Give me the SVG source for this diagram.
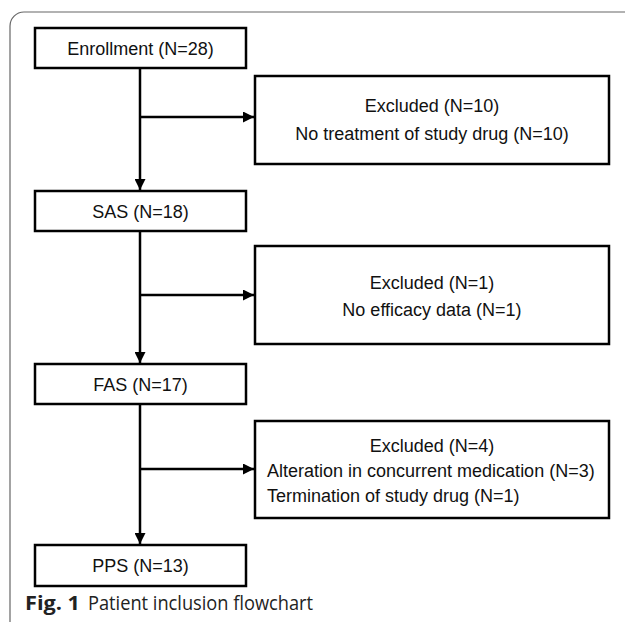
<svg xmlns="http://www.w3.org/2000/svg" width="625" height="622" viewBox="0 0 625 622">
<defs>
<style>
.box{fill:#fff;stroke:#000;stroke-width:2.5}
.t{font-family:"Liberation Sans",Arial,sans-serif;font-size:18px;fill:#111;text-anchor:middle}
.l{text-anchor:start}
.c{stroke:#000;stroke-width:2.5;fill:none}
.cap{font-family:"Open Sans","Noto Sans",sans-serif;font-size:20px;fill:#222}
</style>
<marker id="ah" viewBox="0 0 10 10" refX="10" refY="5" markerWidth="4.4" markerHeight="4.4" markerUnits="strokeWidth" orient="auto">
<path d="M0,0 L10,5 L0,10 Z" fill="#000"/>
</marker>
</defs>
<rect width="625" height="622" fill="#fff"/>
<path d="M10,622 V26 A14,14 0 0 1 24,12 H625" fill="none" stroke="#666" stroke-width="1.2"/>
<g id="connectors">
<path class="c" d="M140,68 V190" marker-end="url(#ah)"/>
<path class="c" d="M140,117 H254" marker-end="url(#ah)"/>
<path class="c" d="M140,231 V363" marker-end="url(#ah)"/>
<path class="c" d="M140,295 H254" marker-end="url(#ah)"/>
<path class="c" d="M140,404 V544" marker-end="url(#ah)"/>
<path class="c" d="M140,469 H254" marker-end="url(#ah)"/>
</g>
<g id="enrollment">
<rect class="box" x="35" y="28" width="211" height="40"/>
<text class="t" x="140.5" y="54.5">Enrollment (N=28)</text>
</g>
<g id="excluded1">
<rect class="box" x="255" y="76" width="354" height="88"/>
<text class="t" x="432" y="112">Excluded (N=10)</text>
<text class="t" x="432" y="140">No treatment of study drug (N=10)</text>
</g>
<g id="sas">
<rect class="box" x="35" y="191" width="211" height="40"/>
<text class="t" x="140.5" y="217.5">SAS (N=18)</text>
</g>
<g id="excluded2">
<rect class="box" x="255" y="246" width="354" height="98"/>
<text class="t" x="432" y="289">Excluded (N=1)</text>
<text class="t" x="432" y="316">No efficacy data (N=1)</text>
</g>
<g id="fas">
<rect class="box" x="35" y="364" width="211" height="40"/>
<text class="t" x="140.5" y="390.5">FAS (N=17)</text>
</g>
<g id="excluded3">
<rect class="box" x="255" y="421" width="354" height="97"/>
<text class="t" x="432" y="452">Excluded (N=4)</text>
<text class="t l" x="267" y="477">Alteration in concurrent medication (N=3)</text>
<text class="t l" x="267" y="502">Termination of study drug (N=1)</text>
</g>
<g id="pps">
<rect class="box" x="35" y="545" width="211" height="41"/>
<text class="t" x="140.5" y="572">PPS (N=13)</text>
</g>
<text class="cap" x="25" y="610" font-weight="bold" textLength="55" lengthAdjust="spacingAndGlyphs">Fig. 1</text>
<text class="cap" x="88" y="610" textLength="225" lengthAdjust="spacingAndGlyphs">Patient inclusion flowchart</text>
</svg>
